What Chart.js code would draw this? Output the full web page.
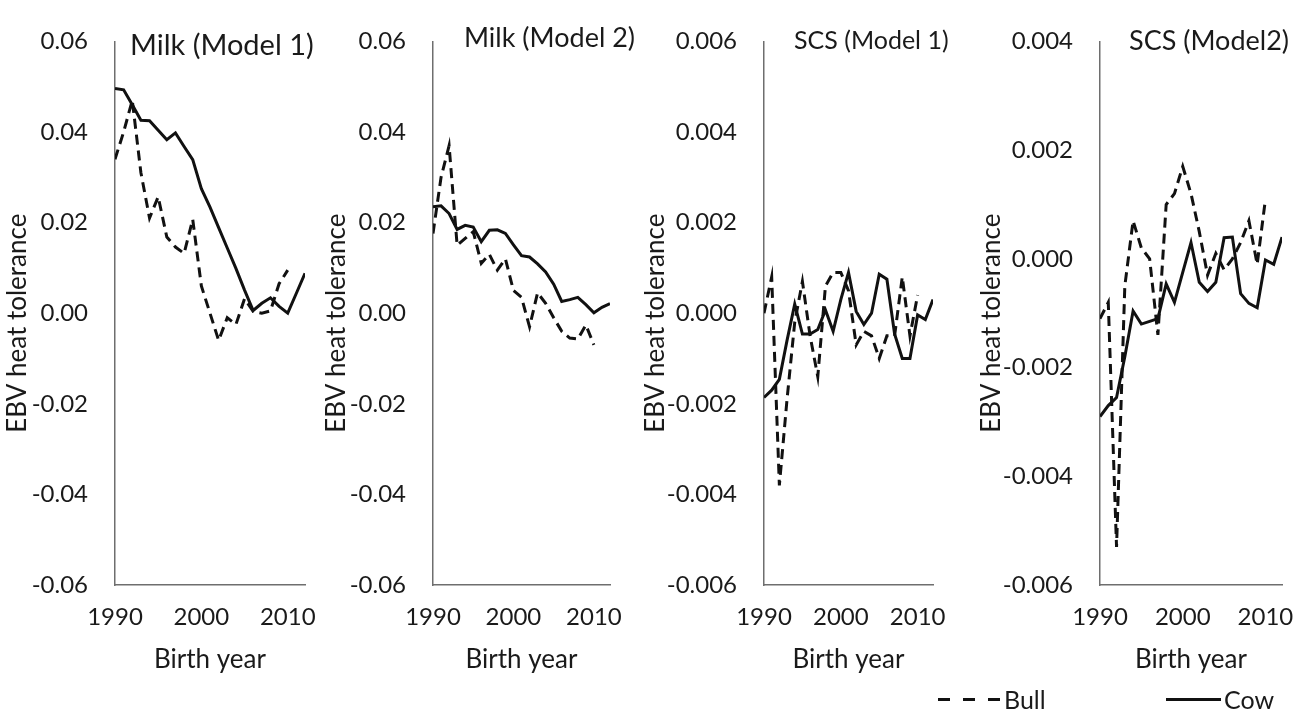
<!DOCTYPE html>
<html>
<head>
<meta charset="utf-8">
<script src="https://cdn.jsdelivr.net/npm/chart.js@4.4.1/dist/chart.umd.min.js"></script>
<style>
  body { margin: 0; background: #fff; width: 1299px; height: 715px; overflow: hidden; position: relative; font-family: Lato, "Open Sans", sans-serif; color: #1a1a1a; }
  .panel { position: absolute; top: 0; }
  .lg { position: absolute; top: 684px; font-size: 25px; line-height: 30px; }
  .sw { position: absolute; height: 3px; top: 698px; }
  .dash { background: repeating-linear-gradient(90deg, #111 0 12px, transparent 12px 25px); }
  .solid { background: #111; }
</style>
</head>
<body>
<canvas class="panel" id="c1"></canvas>
<canvas class="panel" id="c2"></canvas>
<canvas class="panel" id="c3"></canvas>
<canvas class="panel" id="c4"></canvas>

<div class="sw dash" style="left:938px;width:62px"></div>
<div class="lg" style="left:1004px">Bull</div>
<div class="sw solid" style="left:1166px;width:55px"></div>
<div class="lg" style="left:1224px">Cow</div>

<script>
// birth years
const cowYears = [1990, 1991, 1992, 1993, 1994, 1995, 1996, 1997, 1998, 1999, 2000, 2001, 2002, 2003, 2004, 2005, 2006, 2007, 2008, 2009, 2010, 2011, 2012];
const bullYears = [1990, 1991, 1992, 1993, 1994, 1995, 1996, 1997, 1998, 1999, 2000, 2001, 2002, 2003, 2004, 2005, 2006, 2007, 2008, 2009, 2010];

// Milk (Model 1)
const milk1Bull = [0.034, 0.040, 0.047, 0.031, 0.021, 0.0257, 0.0168, 0.0146, 0.0132, 0.0207, 0.006, 0.000, -0.006, -0.001, -0.0025, 0.0032, 0.0004, 0.000, 0.0005, 0.0065, 0.0095];
const milk1Cow = [0.0496, 0.0493, 0.046, 0.0426, 0.0425, 0.0404, 0.0383, 0.0398, 0.0368, 0.0339, 0.0275, 0.0234, 0.0189, 0.0144, 0.0099, 0.0051, 0.0006, 0.0022, 0.0034, 0.0015, 0.0000, 0.0044, 0.0088];

// Milk (Model 2)
const milk2Bull = [0.0176, 0.030, 0.037, 0.015, 0.0165, 0.018, 0.011, 0.013, 0.0095, 0.012, 0.005, 0.0035, -0.003, 0.0045, 0.0022, -0.001, -0.004, -0.0055, -0.0057, -0.0026, -0.007];
const milk2Cow = [0.0235, 0.0237, 0.022, 0.0185, 0.0194, 0.019, 0.0158, 0.0183, 0.0184, 0.0176, 0.0151, 0.0127, 0.0124, 0.0109, 0.0091, 0.0064, 0.0026, 0.003, 0.0035, 0.0019, 0.0001, 0.0013, 0.0021];

// SCS (Model 1)
const scs1Bull = [0.0000, 0.0008, -0.0038, -0.0019, -0.0002, 0.0007, -0.0005, -0.0014, 0.0006, 0.0009, 0.0009, 0.0005, -0.0007, -0.0004, -0.0005, -0.001, -0.0005, -0.0005, 0.0008, -0.0005, 0.0004];
const scs1Cow = [-0.00186, -0.0017, -0.00146, -0.0006, 0.0002, -0.00046, -0.00046, -0.00036, 0.00007, -0.0004, 0.0003, 0.0009, 0.00004, -0.00025, 0.0000, 0.00086, 0.00075, -0.00046, -0.001, -0.001, -0.00004, -0.00014, 0.0003];

// SCS (Model2)
const scs2Bull = [-0.0011, -0.0008, -0.0053, -0.0005, 0.0007, 0.0002, 0.0000, -0.0014, 0.001, 0.0012, 0.0017, 0.0012, 0.0005, -0.0003, 0.0001, -0.0002, 0.0000, 0.0003, 0.0007, -0.0001, 0.0011];
const scs2Cow = [-0.0029, -0.0027, -0.00255, -0.0018, -0.00096, -0.0012, -0.00115, -0.0011, -0.00046, -0.0008, -0.00025, 0.0003, -0.00043, -0.0006, -0.00043, 0.00039, 0.0004, -0.00064, -0.00082, -0.0009, -0.00002, -0.0001, 0.0004];

// tick values
const xTicks = [1990, 2000, 2010];
const milkTicks = [-0.06, -0.04, -0.02, 0, 0.02, 0.04, 0.06];
const scs1Ticks = [-0.006, -0.004, -0.002, 0, 0.002, 0.004, 0.006];
const scs2Ticks = [-0.006, -0.004, -0.002, 0, 0.002, 0.004];

const FONT = 'Lato, "Open Sans", sans-serif';
Chart.defaults.font.family = FONT;
Chart.defaults.color = '#1a1a1a';

const INK = '#111';
const AXIS = '#6e6e6e';

// panel title inside the plot area + the rotated y-axis title
const panelText = {
  id: 'panelText',
  afterDraw(chart, args, opts) {
    const { ctx, chartArea } = chart;
    ctx.save();
    ctx.fillStyle = '#1a1a1a';
    ctx.textBaseline = 'middle';
    ctx.font = opts.size + 'px ' + FONT;
    ctx.fillText(opts.text, chartArea.left + opts.dx, opts.y);

    ctx.font = '26px ' + FONT;
    ctx.textAlign = 'center';
    ctx.translate(chartArea.left - opts.leftW + 18, (chartArea.top + chartArea.bottom) / 2 + 10);
    ctx.rotate(-Math.PI / 2);
    ctx.fillText('EBV heat tolerance', 0, 0);
    ctx.restore();
  }
};

function toPoints(xs, ys) {
  return ys.map((y, i) => ({ x: xs[i], y: y }));
}

function makePanel(id, p, bull, cow, yTicks, decimals) {
  const canvas = document.getElementById(id);
  const leftW = p.leftW;
  const canvasW = leftW + p.len + 40;
  canvas.width = canvasW;
  canvas.height = 715;
  canvas.style.left = (p.axisX - leftW) + 'px';

  return new Chart(canvas.getContext('2d'), {
    type: 'line',
    data: {
      datasets: [
        { label: 'Bull', data: toPoints(bullYears, bull), borderColor: INK, borderWidth: 3, borderDash: [10, 6], pointRadius: 0, tension: 0, fill: false },
        { label: 'Cow', data: toPoints(cowYears, cow), borderColor: INK, borderWidth: 3, pointRadius: 0, tension: 0, fill: false }
      ]
    },
    plugins: [panelText],
    options: {
      responsive: false,
      animation: false,
      events: [],
      layout: { padding: { left: 0, top: 25, right: canvasW - leftW - p.len, bottom: 0 } },
      plugins: {
        legend: { display: false },
        tooltip: { enabled: false },
        panelText: { text: p.title, size: p.titleSize, dx: p.dx, y: p.titleY, leftW: leftW }
      },
      scales: {
        x: {
          type: 'linear',
          min: 1990,
          max: 2012,
          afterBuildTicks: s => { s.ticks = xTicks.map(v => ({ value: v })); },
          afterFit: s => { s.height = 130; },
          grid: { display: false, drawTicks: false },
          border: { display: true, color: AXIS, width: 1.5 },
          ticks: { padding: 18, maxRotation: 0, font: { size: 24 }, callback: v => String(v) },
          title: { display: true, text: 'Birth year', font: { size: 26 }, padding: { top: 0, bottom: 40 } }
        },
        y: {
          min: yTicks[0],
          max: yTicks[yTicks.length - 1],
          afterBuildTicks: s => { s.ticks = yTicks.map(v => ({ value: v })); },
          afterFit: s => { s.width = leftW; },
          grid: { display: false, drawTicks: false },
          border: { display: true, color: AXIS, width: 1.5 },
          ticks: { padding: 27, font: { size: 24 }, callback: v => v.toFixed(decimals) }
        }
      }
    }
  });
}

makePanel('c1', { axisX: 115, len: 190, leftW: 115, title: 'Milk (Model 1)', titleSize: 29, dx: 15, titleY: 46 }, milk1Bull, milk1Cow, milkTicks, 2);
makePanel('c2', { axisX: 433, len: 177, leftW: 114, title: 'Milk (Model 2)', titleSize: 27, dx: 31, titleY: 38 }, milk2Bull, milk2Cow, milkTicks, 2);
makePanel('c3', { axisX: 764, len: 169, leftW: 126, title: 'SCS (Model 1)', titleSize: 25, dx: 30, titleY: 41 }, scs1Bull, scs1Cow, scs1Ticks, 3);
makePanel('c4', { axisX: 1100, len: 182, leftW: 126, title: 'SCS (Model2)', titleSize: 27, dx: 29, titleY: 41 }, scs2Bull, scs2Cow, scs2Ticks, 3);
</script>
</body>
</html>
